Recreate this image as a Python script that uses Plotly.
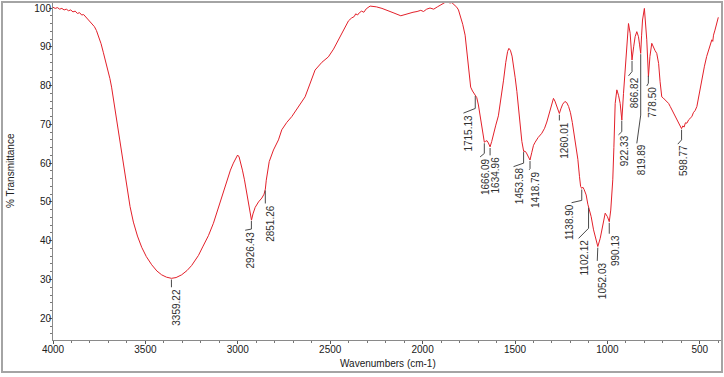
import numpy as np
import plotly.graph_objects as go

# ---------------- data ----------------
wavenumber = [4000, 3988, 3976, 3964, 3952, 3940, 3928, 3916, 3904, 3892, 3880, 3868, 3856, 3845, 3834, 3822,
              3810, 3800, 3788, 3776, 3765, 3752, 3740, 3728, 3715, 3702, 3692, 3683, 3671, 3659, 3646, 3633,
              3618, 3601, 3583, 3565, 3543, 3520, 3495, 3466, 3438, 3412, 3386, 3359, 3334, 3304, 3275, 3250,
              3231, 3213, 3190, 3159, 3132, 3105, 3082, 3060, 3040, 3024, 3010, 3001, 2993, 2984, 2975, 2964,
              2952, 2943, 2934, 2926, 2918, 2906, 2888, 2870, 2858, 2851, 2846, 2840, 2830, 2807, 2780, 2762,
              2735, 2708, 2680, 2650, 2636, 2610, 2582, 2545, 2510, 2482, 2456, 2428, 2401, 2385, 2370, 2362,
              2352, 2342, 2330, 2318, 2305, 2284, 2250, 2220, 2194, 2160, 2118, 2085, 2052, 2030, 2010, 1995,
              1978, 1960, 1940, 1920, 1900, 1880, 1865, 1852, 1842, 1828, 1815, 1806, 1795, 1783, 1770, 1762,
              1755, 1748, 1740, 1730, 1722, 1715, 1707, 1698, 1689, 1680, 1671, 1666, 1660, 1652, 1644, 1635,
              1626, 1617, 1604, 1590, 1576, 1562, 1550, 1540, 1533, 1525, 1516, 1508, 1499, 1490, 1481, 1472,
              1463, 1453, 1446, 1438, 1428, 1419, 1409, 1400, 1391, 1375, 1355, 1340, 1328, 1315, 1302, 1292,
              1284, 1275, 1266, 1260, 1252, 1242, 1230, 1220, 1210, 1200, 1190, 1180, 1170, 1160, 1151, 1145,
              1139, 1133, 1126, 1115, 1106, 1102, 1095, 1088, 1075, 1063, 1052, 1039, 1025, 1012, 1000, 990,
              982, 971, 965, 958, 949, 940, 931, 922, 913, 904, 895, 886, 877, 867, 858, 850,
              841, 832, 826, 820, 815, 810, 800, 794, 787, 778, 770, 760, 752, 742, 733, 723,
              715, 706, 698, 687, 678, 669, 660, 651, 640, 632, 624, 615, 607, 599, 592, 585,
              578, 570, 560, 552, 543, 535, 525, 516, 505, 489, 475, 463, 453, 442, 435, 430,
              426, 418, 410, 402, 400]

transmittance = [100.2, 99.9, 100.1, 99.7, 99.9, 99.5, 99.7, 99.3, 99.5, 99.0, 99.2, 98.6, 98.8, 98.2, 98.3, 97.6,
                 97.1, 96.6, 95.9, 95.2, 94.2, 92.6, 90.8, 88.6, 86.2, 84.0, 81.8, 79.6, 75.8, 71.8, 67.6, 63.4,
                 58.6, 53.4, 48.8, 44.8, 41.2, 38.3, 35.9, 33.8, 32.2, 31.2, 30.6, 30.3, 30.5, 31.2, 32.3, 33.6,
                 34.8, 36.2, 38.4, 41.3, 44.5, 48.6, 52.4, 55.7, 58.2, 60.0, 61.3, 62.1, 61.6, 60.2, 58.2, 55.7,
                 52.4, 49.7, 47.2, 45.3, 46.9, 48.6, 50.0, 51.0, 52.0, 53.3, 55.6, 58.0, 60.4, 63.4, 66.0, 68.6,
                 70.5, 72.0, 74.0, 75.8, 77.1, 80.4, 84.0, 86.0, 87.4, 89.4, 91.8, 94.3, 96.7, 97.4, 97.8, 98.5,
                 98.2, 98.8, 99.2, 98.9, 99.8, 100.5, 100.3, 99.9, 99.5, 98.8, 98.0, 98.5, 98.9, 99.1, 99.4, 99.1,
                 99.7, 100.0, 99.7, 100.3, 100.9, 101.4, 101.6, 101.3, 101.4, 100.8, 100.2, 99.5, 98.0, 95.8, 93.0, 89.5,
                 85.5, 82.0, 79.6, 78.6, 78.1, 77.6, 76.9, 75.0, 72.0, 69.0, 66.5, 65.4, 65.6, 65.8, 65.2, 64.2,
                 65.6, 67.7, 69.8, 72.2, 76.5, 81.4, 86.0, 88.8, 89.6, 89.1, 87.6, 85.4, 82.0, 78.5, 74.0, 69.4,
                 65.6, 63.0, 63.1, 62.6, 61.4, 60.8, 62.8, 64.6, 65.4, 66.6, 67.7, 69.0, 70.6, 73.0, 75.6, 76.7,
                 76.0, 74.6, 73.3, 72.8, 74.0, 75.2, 75.9, 75.6, 74.6, 73.0, 70.5, 67.5, 64.5, 61.0, 56.5, 54.0,
                 53.5, 53.8, 53.2, 51.8, 49.4, 48.8, 47.6, 46.2, 42.8, 40.2, 38.5, 40.6, 44.5, 47.1, 46.2, 44.9,
                 47.9, 55.7, 64.0, 75.4, 78.9, 77.5, 75.4, 71.1, 78.0, 84.9, 91.0, 96.0, 93.5, 86.6, 90.0, 92.6,
                 93.9, 92.6, 90.5, 88.3, 93.0, 96.9, 99.9, 96.5, 91.8, 82.3, 87.5, 90.9, 89.8, 89.0, 88.3, 85.7,
                 81.0, 77.1, 76.8, 76.3, 75.9, 75.4, 74.6, 73.7, 72.6, 72.2, 71.1, 70.2, 69.5, 68.9, 69.6, 69.3,
                 70.4, 70.3, 71.2, 71.6, 72.0, 73.0, 73.6, 74.6, 77.5, 81.4, 85.0, 87.5, 89.2, 91.0, 91.8, 91.4,
                 93.0, 94.3, 95.5, 97.3, 97.6]

peak_values = [3359.22, 2926.43, 2851.26, 1715.13, 1666.09, 1634.96, 1453.58, 1418.79, 1260.01,
               1138.90, 1102.12, 1052.03, 990.13, 922.33, 866.82, 819.89, 778.50, 598.77]
peak_text = ["3359.22", "2926.43", "2851.26", "1715.13", "1666.09", "1634.96", "1453.58", "1418.79", "1260.01",
             "1138.90", "1102.12", "1052.03", "990.13", "922.33", "866.82", "819.89", "778.50", "598.77"]

x_ticks = [4000, 3500, 3000, 2500, 2000, 1500, 1000, 500]
y_ticks = [20, 30, 40, 50, 60, 70, 80, 90, 100]

# ---------------- label layout (leader knee %T, leader end wn/%T, text left wn) ----------------
label_layout = {
    "3359.22": (28.2, 3359, 28.0, None),
    "2926.43": (43.0, 2960, 42.7, None),
    "2851.26": (49.8, 2851, 49.6, None),
    "1715.13": (74.1, 1779, 72.9, None),
    "1666.09": (62.5, 1689, 61.6, None),
    "1634.96": (62.2, 1635, 62.0, None),
    "1453.58": (60.0, 1508, 59.1, None),
    "1418.79": (58.6, 1423, 58.3, None),
    "1260.01": (71.1, 1260, 71.0, None),
    "1138.90": (50.4, 1194, 49.8, 1236),
    "1102.12": (43.2, 1156, 40.6, None),
    "1052.03": (35.0, 1055, 34.8, None),
    "990.13": (41.9, 990, 41.8, None),
    "922.33": (68.1, 940, 67.3, None),
    "866.82": (83.6, 886, 82.5, None),
    "819.89": (72.4, 841, 65.1, None),
    "778.50": (80.6, 787, 79.9, None),
    "598.77": (66.0, 619, 64.9, None),
}

X_RANGE = [4000, 380]
Y_RANGE = [14.4, 101.55]
FONT = "Liberation Sans, Arial, sans-serif"

fig = go.Figure()

fig.add_trace(go.Scatter(x=wavenumber, y=transmittance, mode="lines",
                         line=dict(color="#e3202a", width=1), hoverinfo="skip", showlegend=False))

# leader lines
wn_asc = np.array(wavenumber[::-1], dtype=float)
t_asc = np.array(transmittance[::-1], dtype=float)
lx, ly = [], []
annotations = []
for val, txt in zip(peak_values, peak_text):
    knee_t, end_wn, end_t, text_wn = label_layout[txt]
    peak_t = float(np.interp(val, wn_asc, t_asc)) - 0.3
    lx += [val, val, end_wn, None]
    ly += [peak_t, knee_t, end_t, None]
    annotations.append(dict(x=text_wn if text_wn is not None else end_wn, y=end_t, xref="x", yref="y",
                            text=txt, textangle=-90, showarrow=False, xanchor="left", yanchor="top",
                            xshift=-1, borderpad=0,
                            font=dict(family=FONT, size=10, color="#303030")))

fig.add_trace(go.Scatter(x=lx, y=ly, mode="lines", line=dict(color="#4a4a4a", width=1),
                         hoverinfo="skip", showlegend=False, connectgaps=False))

# axis titles
annotations.append(dict(x=0.5, y=-(363 - 340) / 338, xref="paper", yref="paper", text="Wavenumbers (cm-1)",
                        showarrow=False, xanchor="center", yanchor="middle",
                        font=dict(family=FONT, size=10, color="#202020")))
annotations.append(dict(x=(10 - 53) / 669, y=0.5, xref="paper", yref="paper", text="% Transmittance",
                        showarrow=False, xanchor="center", yanchor="middle", textangle=-90,
                        font=dict(family=FONT, size=10, color="#202020")))

fig.update_layout(
    width=724, height=377,
    margin=dict(l=53, r=2, t=2, b=37, autoexpand=False),
    paper_bgcolor="white", plot_bgcolor="white",
    font=dict(family=FONT, size=10, color="#202020"),
    annotations=annotations,
    shapes=[dict(type="rect", xref="paper", yref="paper",
                 x0=(2 - 53) / 669, x1=1.0, y0=-(372 - 340) / 338, y1=1.0,
                 line=dict(color="#a4a4a4", width=2), layer="above")],
)
fig.update_xaxes(range=X_RANGE, tickvals=x_ticks, ticktext=[str(v) for v in x_ticks],
                 showgrid=False, zeroline=False, showline=True, linecolor="#8a8a8a", linewidth=1,
                 ticks="outside", ticklen=3, tickcolor="#555", tickwidth=1, automargin=False,
                 ticklabelstandoff=-3,
                 minor=dict(dtick=100, tick0=0, ticks="outside", ticklen=2, tickcolor="#777", showgrid=False),
                 tickfont=dict(size=10, color="#202020"))
fig.update_yaxes(range=Y_RANGE, tickvals=y_ticks, ticktext=[str(v) for v in y_ticks],
                 showgrid=False, zeroline=False, showline=True, linecolor="#8a8a8a", linewidth=1,
                 ticks="outside", ticklen=3, tickcolor="#555", tickwidth=1, automargin=False,
                 ticklabelstandoff=-4,
                 minor=dict(dtick=2, tick0=0, ticks="outside", ticklen=2, tickcolor="#777", showgrid=False),
                 tickfont=dict(size=10, color="#202020"))

fig.write_html("out.html", config={"displayModeBar": False},
               post_script="document.body.style.margin='0';document.body.style.padding='0';")
